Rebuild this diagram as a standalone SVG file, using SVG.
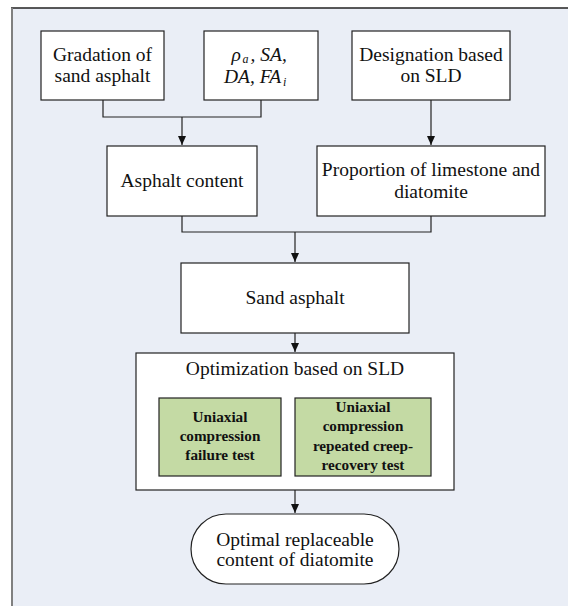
<svg xmlns="http://www.w3.org/2000/svg" width="568" height="606" viewBox="0 0 568 606">
<defs>
<marker id="arr" markerWidth="10" markerHeight="10" refX="9" refY="4" orient="auto" markerUnits="userSpaceOnUse">
<path d="M0,0 L9,4 L0,8 Z" fill="#111"/>
</marker>
<style>
.box{fill:#fff;stroke:#222;stroke-width:1.2}
.green{fill:#C4DAA4;stroke:#222;stroke-width:1.2}
.t{font-family:"Liberation Serif","Times New Roman",serif;font-size:19.5px;fill:#111;text-anchor:middle}
.i{font-family:"Liberation Serif","Times New Roman",serif;font-size:19.5px;font-style:italic;fill:#111}
.s{font-family:"Liberation Serif","Times New Roman",serif;font-size:12px;font-style:italic;fill:#111}
.b{font-family:"Liberation Serif","Times New Roman",serif;font-size:15.2px;font-weight:bold;fill:#111;text-anchor:middle}
.c{fill:none;stroke:#222;stroke-width:1.2}
</style>
</defs>
<rect x="0" y="0" width="568" height="606" fill="#fff"/>
<rect x="12" y="8" width="570" height="610" fill="#EAEEF6"/>
<line x1="11" y1="8" x2="568" y2="8" stroke="#222" stroke-width="1.5"/>
<line x1="12" y1="8" x2="12" y2="606" stroke="#808080" stroke-width="2"/>

<g id="connectors">
<path class="c" d="M103,100 V117 H261 V100"/>
<path class="c" d="M182,117 V145" marker-end="url(#arr)"/>
<path class="c" d="M431,100 V145" marker-end="url(#arr)"/>
<path class="c" d="M182,216 V232 H431 V216"/>
<path class="c" d="M295,232 V262" marker-end="url(#arr)"/>
<path class="c" d="M295,333 V352" marker-end="url(#arr)"/>
<path class="c" d="M295,490 V513" marker-end="url(#arr)"/>
</g>

<g id="gradation">
<rect class="box" x="41" y="31" width="123" height="69"/>
<text class="t" x="102.5" y="61">Gradation of</text>
<text class="t" x="102.5" y="82">sand asphalt</text>
</g>

<g id="parameters">
<rect class="box" x="204" y="31" width="114" height="69"/>
<text class="i" x="231.5" y="61">ρ</text>
<text class="s" x="242.5" y="62.5">a</text>
<text class="i" x="250.5" y="61">, SA,</text>
<text class="i" x="224" y="83">DA, FA</text>
<text class="s" x="283" y="86">i</text>
</g>

<g id="designation">
<rect class="box" x="352" y="31" width="158" height="69"/>
<text class="t" x="431" y="61">Designation based</text>
<text class="t" x="431" y="82">on SLD</text>
</g>

<g id="asphalt-content">
<rect class="box" x="107" y="146" width="150" height="70"/>
<text class="t" x="182" y="187">Asphalt content</text>
</g>

<g id="proportion">
<rect class="box" x="317" y="146" width="228" height="70"/>
<text class="t" x="431" y="176">Proportion of limestone and</text>
<text class="t" x="431" y="198">diatomite</text>
</g>

<g id="sand-asphalt">
<rect class="box" x="181" y="263" width="228" height="70"/>
<text class="t" x="295" y="304">Sand asphalt</text>
</g>

<g id="optimization">
<rect class="box" x="136" y="353" width="318" height="137"/>
<text class="t" x="295" y="375">Optimization based on SLD</text>
</g>

<g id="failure-test">
<rect class="green" x="159" y="398" width="122" height="78"/>
<text class="b" x="220" y="422">Uniaxial</text>
<text class="b" x="220" y="441">compression</text>
<text class="b" x="220" y="460">failure test</text>
</g>

<g id="creep-test">
<rect class="green" x="295" y="398" width="136" height="78"/>
<text class="b" x="363" y="412">Uniaxial</text>
<text class="b" x="363" y="431">compression</text>
<text class="b" x="363" y="450.5">repeated creep-</text>
<text class="b" x="363" y="469.5">recovery test</text>
</g>

<g id="optimal">
<rect class="box" x="191" y="514" width="208" height="70" rx="35" ry="35"/>
<text class="t" x="295" y="546">Optimal replaceable</text>
<text class="t" x="295" y="566">content of diatomite</text>
</g>
</svg>
